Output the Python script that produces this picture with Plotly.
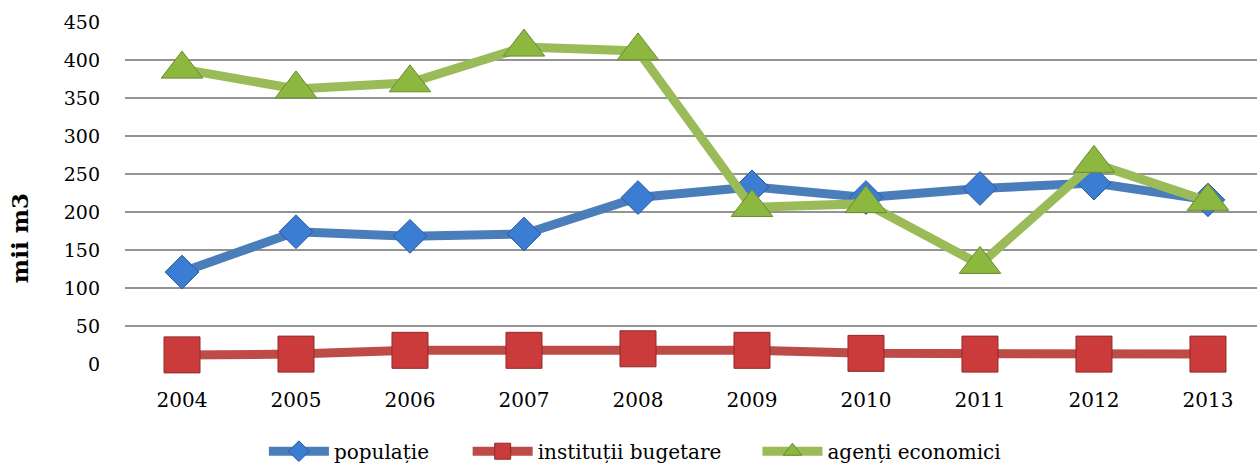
import plotly.graph_objects as go

years = ["2004", "2005", "2006", "2007", "2008", "2009", "2010", "2011", "2012", "2013"]
populatie = [121, 174, 168, 171, 219, 233, 219, 231, 238, 216]
institutii_bugetare = [12, 13, 18, 18, 20, 18, 14, 13, 13, 13]
agenti_economici = [388, 362, 370, 417, 412, 206, 211, 131, 264, 214]

y_ticks = [0, 50, 100, 150, 200, 250, 300, 350, 400, 450]

FONT = "DejaVu Serif"

# name, values, line colour, marker fill, marker edge, symbol, size, legend id, legend x
series = [
    ("populație", populatie, "#4a7ebb", "#3b7dd3", "#2b5a99", "diamond", 26, "legend", 0.1227),
    ("instituții bugetare", institutii_bugetare, "#be4b48", "#cc3b3b", "#8e2a28", "square", 36, "legend2", 0.3027),
    ("agenți economici", agenti_economici, "#9bbb59", "#8cb840", "#6a8a30", "triangle-up", 36, "legend3", 0.5587),
]

fig = go.Figure()
legends = {}
for name, vals, line_c, fill_c, edge_c, sym, size, leg, lx in series:
    fig.add_trace(go.Scatter(
        x=list(range(len(years))), y=vals, name=name, mode="lines+markers",
        line=dict(color=line_c, width=9),
        marker=dict(symbol=sym, size=size, color=fill_c,
                    line=dict(color=edge_c, width=1)),
        cliponaxis=False, legend=leg,
    ))
    legends[leg] = dict(
        orientation="h", x=lx, xanchor="left", y=-0.255, yanchor="middle",
        font=dict(family=FONT, size=20, color="black"), itemwidth=60,
        bgcolor="rgba(0,0,0,0)",
    )

# vertical unit label on the left
fig.add_annotation(
    text="<b>mii m3</b>", textangle=-90, showarrow=False,
    xref="paper", yref="paper", x=-0.0936, y=0.368,
    xanchor="center", yanchor="middle",
    font=dict(family=FONT, size=23, color="black"),
)

fig.update_layout(
    width=1257, height=463,
    margin=dict(l=125, r=0, t=22, b=99, autoexpand=False),
    paper_bgcolor="white", plot_bgcolor="white",
    font=dict(family=FONT, size=19, color="black"),
    xaxis=dict(
        tickmode="array", tickvals=list(range(len(years))), ticktext=years,
        range=[-0.5, 9.43], showgrid=False, zeroline=False, showline=False,
        ticks="", ticklabelstandoff=22, tickfont=dict(family=FONT, size=20),
    ),
    yaxis=dict(
        range=[0, 450], tickvals=y_ticks, showgrid=True,
        gridcolor="#939393", gridwidth=1.5, zeroline=False, showline=False,
        ticks="", ticklabelstandoff=24, tickfont=dict(family=FONT, size=19),
    ),
    showlegend=True,
    **legends,
)

fig.write_html("out.html")
